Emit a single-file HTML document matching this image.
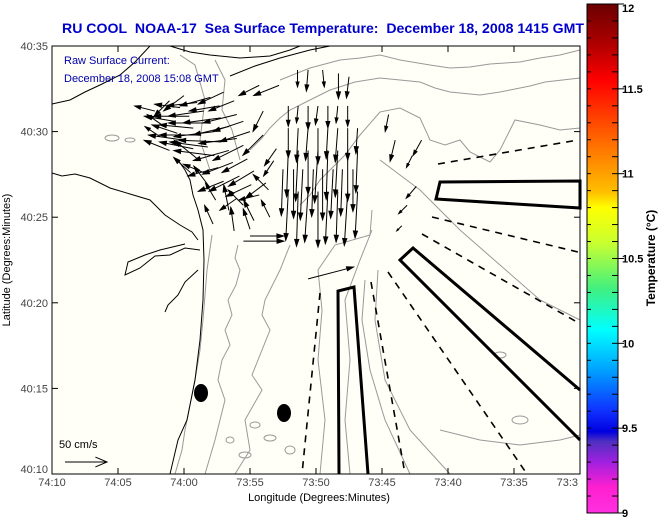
<!DOCTYPE html>
<html><head><meta charset="utf-8">
<style>
html,body{margin:0;padding:0;background:#fff;}
svg{display:block;font-family:"Liberation Sans",sans-serif;}
</style></head>
<body>
<svg id="chart" width="660" height="519" viewBox="0 0 660 519" xmlns="http://www.w3.org/2000/svg">
<defs>
<linearGradient id="cbar" x1="0" y1="0" x2="0" y2="1">
<stop offset="0" stop-color="#6a0000"/>
<stop offset="0.08" stop-color="#b00000"/>
<stop offset="0.15" stop-color="#ff0000"/>
<stop offset="0.27" stop-color="#ff6a00"/>
<stop offset="0.37" stop-color="#ffc000"/>
<stop offset="0.40" stop-color="#ffff00"/>
<stop offset="0.47" stop-color="#c8ff30"/>
<stop offset="0.56" stop-color="#40f080"/>
<stop offset="0.64" stop-color="#00ffff"/>
<stop offset="0.72" stop-color="#00a0ff"/>
<stop offset="0.80" stop-color="#1030ff"/>
<stop offset="0.84" stop-color="#0000e0"/>
<stop offset="0.86" stop-color="#5030c0"/>
<stop offset="0.90" stop-color="#a020e0"/>
<stop offset="0.95" stop-color="#ff20d0"/>
<stop offset="1" stop-color="#ff30e0"/>
</linearGradient>
</defs>
<text x="62" y="33" textLength="522" lengthAdjust="spacingAndGlyphs" font-size="14" font-weight="bold" fill="#0000cc">RU COOL&#160;&#160;NOAA-17&#160;&#160;Sea Surface Temperature:&#160;&#160;December 18, 2008 1415 GMT</text>
<rect x="52" y="46" width="528" height="428" fill="#fffff8"/>
<g id="gray" fill="none" stroke="#999" stroke-width="1">
<path d="M280,80 L300,72 L310,68 L325,64 L340,60 L360,58 L380,55 L400,60 L430,65 L450,68 L470,67 L490,64 L520,62 L540,58 L560,55 L580,50"/>
<path d="M250,150 L262,138 L270,128 L280,118 L290,110 L310,100 L330,90 L355,82 L380,78 L400,80 L420,82 L435,88 L450,92 L480,95 L500,92 L510,90 L530,86 L545,82 L580,78"/>
<path d="M300,205 L310,195 L320,180 L332,168 L345,155 L360,135 L380,112 L400,108 L420,118 L430,140 L445,145 L460,140 L470,152 L490,162 L500,150 L515,120 L540,125 L560,130 L580,128"/>
<path d="M175,474 L182,450 L185,430 L190,405 L195,380 L200,350 L203,320 L205,295 L207,270 L212,235"/>
<path d="M205,474 L215,440 L220,420 L225,400 L218,380 L222,360 L230,345 L225,330 L232,315 L228,300 L236,285 L240,270 L235,258 L238,245"/>
<path d="M235,474 L250,450 L245,420 L262,390 L252,375 L258,360 L270,330 L262,315 L265,300 L280,270 L290,245"/>
<path d="M320,474 L325,420 L318,360 L322,310 L318,270 L335,245 L370,235 L372,210"/>
<path d="M350,474 L345,420 L350,360 L345,300 L360,260 L372,230"/>
<path d="M410,474 L385,420 L370,370 L362,320 L365,280"/>
<path d="M450,474 L410,430 L385,380 L375,320 L378,270"/>
<path d="M380,160 L400,175 L420,190 L460,230 L500,265 L540,300 L580,320"/>
<path d="M440,430 L480,440 L520,445 L560,440 L580,435"/>
<path d="M180,55 L195,65 L205,100 L200,140 L210,170"/>
<path d="M215,60 L225,80 L222,110 L232,130 L240,160"/>
<ellipse cx="112" cy="138" rx="7" ry="3"/>
<ellipse cx="130" cy="140" rx="5" ry="2"/>
<ellipse cx="255" cy="425" rx="5" ry="3"/>
<ellipse cx="270" cy="438" rx="6" ry="3"/>
<ellipse cx="245" cy="455" rx="6" ry="3"/>
<ellipse cx="230" cy="440" rx="4" ry="3"/>
<ellipse cx="290" cy="450" rx="5" ry="4"/>
<ellipse cx="500" cy="355" rx="6" ry="3"/>
<ellipse cx="520" cy="420" rx="8" ry="4"/>
</g>
<g id="coast" fill="none" stroke="#000" stroke-width="1">
<path d="M52,104 L70,100 L85,92 L100,85 L120,75 L135,62 L150,46"/>
<path d="M170,46 L190,52 L210,55 L240,58 L270,56 L290,50 L300,46"/>
<path d="M230,76 L255,66 L280,58 L310,50 L330,46"/>
<path d="M52,173 L62,176 L75,174 L90,178 L110,188 L130,194 L150,200 L165,215 L180,225 L192,232 L198,240"/>
<path d="M170,474 L178,440 L187,420 L195,380 L200,340 L203,300 L204,260 L203,230 L198,210 L193,195 L190,180 L185,170 L178,160"/>
<path d="M200,250 L185,248 L170,255 L155,256 L140,268 L125,275 L128,262 L145,255 L160,250 L185,244"/>
<path d="M198,270 L185,282 L178,295 L168,305 L165,312"/>
</g>
<g id="polys" fill="none" stroke="#000" stroke-width="3">
<polygon points="440,182 580,181 580,208 436,199"/>
<polyline points="580,440 400,260 413,248 580,390"/>
<polyline points="339,474 338,291 354,287 368,474"/>
</g>
<g id="dashes" fill="none" stroke="#000" stroke-width="1.6" stroke-dasharray="7,6">
<line x1="438" y1="164" x2="578" y2="140"/>
<line x1="432" y1="217" x2="578" y2="252"/>
<line x1="422" y1="234" x2="577" y2="322"/>
<line x1="388" y1="272" x2="527" y2="474"/>
<line x1="371" y1="282" x2="405" y2="474"/>
<line x1="320" y1="293" x2="302" y2="474"/>
</g>
<ellipse cx="201" cy="393" rx="7" ry="9" fill="#000"/>
<ellipse cx="284" cy="413" rx="7" ry="9" fill="#000"/>
<g id="arrows" stroke="#000" stroke-width="1" fill="#000"></g>
<text x="64" y="64" font-size="11" fill="#0000aa">Raw Surface Current:</text>
<text x="64" y="82" font-size="11" fill="#0000aa">December 18, 2008 15:08 GMT</text>
<text x="59" y="448" font-size="11" fill="#000">50 cm/s</text>
<g id="axes"></g>
<rect x="52" y="46" width="528" height="428" fill="none" stroke="#000" stroke-width="1"/>
<text x="319" y="501" text-anchor="middle" font-size="11">Longitude (Degrees:Minutes)</text>
<text transform="translate(10,260) rotate(-90)" text-anchor="middle" font-size="11">Latitude (Degrees:Minutes)</text>
<rect x="587" y="4" width="31" height="509" fill="url(#cbar)" stroke="#000" stroke-width="1"/>
<g id="cbticks"></g>
<text transform="translate(655,258) rotate(-90)" text-anchor="middle" font-size="12" font-weight="bold">Temperature (°C)</text>
</svg>
<script>
const xTickLabels = ["74:10","74:05","74:00","73:55","73:50","73:45","73:40","73:35","73:3"];
const xTickMinutes = [70,65,60,55,50,45,40,35,30];
const yTickLabels = ["40:10","40:15","40:20","40:25","40:30","40:35"];
const yTickMinutes = [10,15,20,25,30,35];
const cbTickLabels = ["9","9.5","10","10.5","11","11.5","12"];
const cbTickValues = [9,9.5,10,10.5,11,11.5,12];
// current vectors: lon (minutes west of 73:00), lat (minutes past 40:00), u,v cm/s
const vecLon = [56.2,57.3,58.5,59.6,60.7,55.5,56.6,57.7,58.8,60.0,61.1,55.5,56.6,57.7,58.8,54.7,55.8,57.0,58.1,54.3,55.5,56.6,54.0,52.8,54.3,54.0,60.0,61.1,62.2,53.2,53.6,54.7,
 57.0,58.0,59.0,60.3,56.0,57.2,58.3,59.3,55.0,56.0,57.2,58.2,59.3,60.5,61.5,55.2,56.3,57.4,58.5,53.8,54.9,56.0,57.6,53.0,53.5,55.0,56.2,57.8,59.5,61.8,
 51.4,50.6,49.5,48.3,47.5,
 52.1,51.35,50.6,49.85,49.1,48.35,47.6,
 52.1,51.35,50.6,49.85,49.1,48.35,47.6,46.85,
 52.1,51.35,50.6,49.85,49.1,48.35,47.6,46.85,
 52.5,51.7,51.0,50.2,49.5,48.7,48.0,47.2,
 52.1,51.35,50.6,49.85,49.1,48.35,47.6,46.85,
 55.5,55.0,50.6,
 42.0,42.4,43.1,43.5,42.7,44.5,44.0];
const vecLat = [31.8,31.5,31.2,30.9,30.6,30.6,30.3,30.0,29.8,29.5,28.9,29.2,28.9,28.6,28.3,27.7,27.4,27.1,26.8,26.3,25.7,25.4,31.2,32.7,32.7,29.8,32.1,31.8,31.2,28.3,26.6,24.8,
 32.3,32.0,31.7,31.4,31.0,30.8,30.5,30.2,30.0,29.6,29.4,29.1,29.0,29.9,30.3,28.4,28.2,27.9,27.6,27.0,26.9,26.1,26.0,29.0,25.0,24.3,24.2,24.6,27.6,29.7,
 33.6,33.6,33.6,33.4,33.2,
 31.5,31.5,31.5,31.5,31.5,31.5,31.5,
 30.2,30.2,30.2,30.2,30.2,30.2,30.2,30.2,
 28.9,28.9,28.9,28.9,28.9,28.9,28.9,28.9,
 27.8,27.8,27.8,27.8,27.8,27.8,27.8,27.8,
 26.5,26.5,26.5,26.5,26.5,26.5,26.5,26.5,
 23.6,23.9,21.4,
 29.5,26.8,25.7,24.5,28.6,31.0,29.5];
const vecU = [-30,-36,-42,-42,-36,-36,-42,-48,-48,-42,-30,-36,-42,-48,-30,-30,-36,-30,-18,-24,-18,-6,-12,-30,-24,-24,-24,-18,-24,-12,-18,-12,
 -30,-36,-36,-30,-40,-45,-45,-40,-36,-45,-50,-45,-40,-30,-20,-30,-36,-36,-24,-24,-30,-20,-12,-14,-10,-8,-4,-10,-20,-18,
 0,-2,2,0,-3,
 0,-2,0,-3,0,-2,0,
 0,-2,-3,0,-2,-3,0,-2,
 -2,-3,0,-4,-2,-3,0,-2,
 -2,0,-3,-2,0,-3,-2,0,
 -3,-2,-4,0,-3,-2,-4,-3,
 48,40,54,
 -10,-12,-10,-6,-7,-4,-6];
const vecV = [-12,-6,-6,0,6,-12,-10,-6,0,6,12,-18,-12,6,24,-18,-18,-12,24,-6,18,30,-24,-12,-12,-24,-18,-18,6,-18,18,24,
 -14,-10,-4,4,-10,-6,0,4,-12,-6,2,6,8,10,14,-16,-14,-10,10,-18,-14,-14,20,-20,20,24,28,22,18,12,
 -20,-25,-20,-30,-25,
 -24,-20,-28,-22,-26,-20,-24,
 -35,-40,-38,-42,-36,-40,-38,-30,
 -55,-60,-52,-62,-58,-55,-60,-50,
 -55,-58,-60,-56,-60,-58,-55,-50,
 -58,-65,-60,-66,-62,-60,-64,-55,
 0,0,14,
 -18,-14,-10,-6,-14,-20,-25];
const scaleU = [50];

const NS="http://www.w3.org/2000/svg";
const X0=52,X1=580,Y0=46,Y1=474;
function xScale(lonMin){return X0+(70-lonMin)*(X1-X0)/40;}
function yScale(latMin){return Y1-(latMin-10)*(Y1-Y0)/25;}
const pxPerCm=0.84;
function cbScale(t){return 513-(t-9)*509/3;}
function mk(tag,attrs,parent){const e=document.createElementNS(NS,tag);for(const k in attrs)e.setAttribute(k,attrs[k]);parent.appendChild(e);return e;}

function arrow(parent,x,y,dx,dy,open){
  const len=Math.hypot(dx,dy); if(len<0.5)return null;
  const g=document.createElementNS(NS,'g');
  const ex=x+dx,ey=y+dy,ang=Math.atan2(dy,dx),h=open?len*0.3:Math.min(len*0.3,7),a=open?0.4:0.3;
  const l=document.createElementNS(NS,'path');
  l.setAttribute('d',`M${x},${y}L${ex},${ey}`);l.setAttribute('fill','none');
  g.appendChild(l);
  const p=document.createElementNS(NS,'path');
  const pts=`M${ex-h*Math.cos(ang-a)},${ey-h*Math.sin(ang-a)}L${ex},${ey}L${ex-h*Math.cos(ang+a)},${ey-h*Math.sin(ang+a)}`;
  p.setAttribute('d',open?pts:pts+'Z');
  if(open)p.setAttribute('fill','none');
  g.appendChild(p);parent.appendChild(g);return g;
}
const ag=document.getElementById('arrows');
for(let i=0;i<vecLon.length;i++){
  const g=arrow(ag,xScale(vecLon[i]),yScale(vecLat[i]),vecU[i]*pxPerCm,-vecV[i]*pxPerCm,false);
  if(g){
    
    
  }
}
const sg=arrow(ag,65,462,scaleU[0]*pxPerCm,0,true);



const ax=document.getElementById('axes');
xTickMinutes.forEach((m,i)=>{
  const x=xScale(m);
  mk('line',{x1:x,y1:Y1,x2:x,y2:Y1-6,stroke:'#000'},ax);
  mk('line',{x1:x,y1:Y0,x2:x,y2:Y0+6,stroke:'#000'},ax);
  const last=i==xTickLabels.length-1;
  const t=mk('text',{x:last?578:x,y:486,'text-anchor':last?'end':'middle','font-size':11,fill:'#444'},ax);
  t.textContent=xTickLabels[i];
  
  
});
yTickMinutes.forEach((m,i)=>{
  const y=yScale(m);
  mk('line',{x1:X0,y1:y,x2:X0+6,y2:y,stroke:'#000'},ax);
  mk('line',{x1:X1,y1:y,x2:X1-6,y2:y,stroke:'#000'},ax);
  const t=mk('text',{x:48,y:y+(i==0?-1:4),'text-anchor':'end','font-size':11,fill:'#444'},ax);
  t.textContent=yTickLabels[i];
  
  
});
const cb=document.getElementById('cbticks');
for(let k=0;k<=30;k++){
  const y=cbScale(9+k*0.1);
  mk('line',{x1:618,y1:y,x2:612,y2:y,stroke:'#000'},cb);
  mk('line',{x1:587,y1:y,x2:591,y2:y,stroke:'#000'},cb);
}
cbTickValues.forEach((v,i)=>{
  const y=cbScale(v);
  mk('line',{x1:618,y1:y,x2:624,y2:y,stroke:'#000'},cb);
  const t=mk('text',{x:622,y:Math.min(Math.max(y+4,12),518),'font-size':11,'font-weight':'bold'},cb);
  t.textContent=cbTickLabels[i];
  
  
});
</script>
</body></html>
